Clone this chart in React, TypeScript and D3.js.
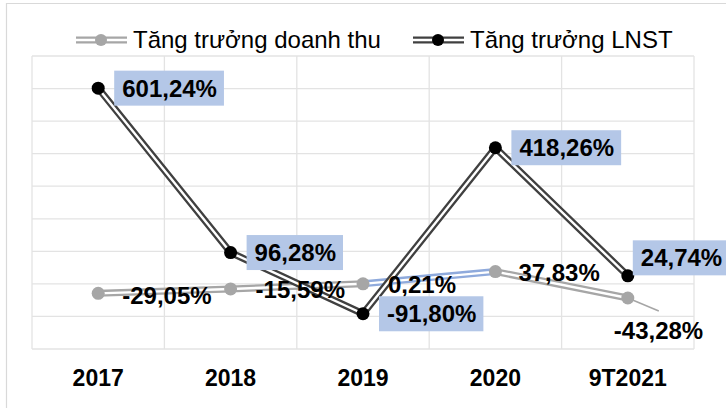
import React, { useEffect, useRef } from 'react';
import * as d3 from 'd3';

// data
const categories = ['2017', '2018', '2019', '2020', '9T2021'];
const revenueGrowth = [-29.05, -15.59, 0.21, 37.83, -43.28];
const profitGrowth = [601.24, 96.28, -91.8, 418.26, 24.74];
const legendNames = ['Tăng trưởng doanh thu', 'Tăng trưởng LNST'];
const yTicks = [-200, -100, 0, 100, 200, 300, 400, 500, 600, 700];

// label placement (dx, dy from point)
const profitLabelShift = [[0, 0], [0, 0], [0, 0], [0, 0], [-11, -18]];
const revenueLabelShift = [[24, 2], [25, 1], [25, 1], [23, 1], [-14, 33]];

const fmt = (v: number) => v.toFixed(2).replace('.', ',') + '%';

const W = 726;
const H = 408;
const FONT = '"Liberation Sans", Arial, sans-serif';

const App = () => {
  const svgRef = useRef<SVGSVGElement>(null);

  useEffect(() => {
    const svg = d3.select(svgRef.current);
    svg.selectAll('*').remove();

    const left = 32, right = 694, top = 56, bottom = 349;

    const x = d3.scaleBand().domain(categories).range([left, right]);
    const y = d3.scaleLinear().domain([-200, 700]).range([bottom, top]);
    const cx = (c: string) => (x(c) as number) + x.bandwidth() / 2;

    // outer border
    svg.append('path')
      .attr('d', `M6.5,${H} V3.5 H${W}`)
      .attr('fill', 'none')
      .attr('stroke', '#d9d9d9')
      .attr('stroke-width', 1.2);

    // gridlines
    svg.append('g').selectAll('line')
      .data(yTicks)
      .enter().append('line')
      .attr('x1', left).attr('x2', right)
      .attr('y1', d => y(d)).attr('y2', d => y(d))
      .attr('stroke', '#e3e3e3').attr('stroke-width', 1.3);

    const vlines = [...categories.map(c => x(c) as number), right];
    svg.append('g').selectAll('line')
      .data(vlines)
      .enter().append('line')
      .attr('x1', d => d).attr('x2', d => d)
      .attr('y1', top).attr('y2', bottom)
      .attr('stroke', '#e3e3e3').attr('stroke-width', 1.3);

    // x axis labels
    svg.append('g').selectAll('text')
      .data(categories)
      .enter().append('text')
      .attr('x', d => cx(d))
      .attr('y', 386)
      .attr('text-anchor', 'middle')
      .style('font', `bold 23px ${FONT}`)
      .attr('fill', '#000')
      .text(d => d);

    const doubleLine = (g: any, pts: [number, number][], color: string) => {
      const line = d3.line();
      g.append('path').attr('d', line(pts)).attr('fill', 'none')
        .attr('stroke', color).attr('stroke-width', 7).attr('stroke-linejoin', 'round');
      g.append('path').attr('d', line(pts)).attr('fill', 'none')
        .attr('stroke', '#fff').attr('stroke-width', 2.4).attr('stroke-linejoin', 'round');
    };

    const revPts: [number, number][] = categories.map((c, i) => [cx(c), y(revenueGrowth[i])]);
    const proPts: [number, number][] = categories.map((c, i) => [cx(c), y(profitGrowth[i])]);

    // revenue series (segment 2019-2020 highlighted in blue)
    const gRev = svg.append('g');
    for (let i = 0; i < revPts.length - 1; i++) {
      doubleLine(gRev, [revPts[i], revPts[i + 1]], i === 2 ? '#8faadc' : '#a6a6a6');
    }
    // leader line of last label
    const lastRev = revPts[revPts.length - 1];
    gRev.append('line')
      .attr('x1', lastRev[0]).attr('y1', lastRev[1])
      .attr('x2', lastRev[0] + 31).attr('y2', lastRev[1] + 13)
      .attr('stroke', '#a6a6a6').attr('stroke-width', 1.5);
    gRev.selectAll('circle')
      .data(revPts)
      .enter().append('circle')
      .attr('cx', d => d[0]).attr('cy', d => d[1]).attr('r', 6.5)
      .attr('fill', '#a6a6a6');

    // profit series
    const gPro = svg.append('g');
    doubleLine(gPro, proPts, '#404040');
    gPro.selectAll('circle')
      .data(proPts)
      .enter().append('circle')
      .attr('cx', d => d[0]).attr('cy', d => d[1]).attr('r', 6.5)
      .attr('fill', '#000');

    // revenue labels
    svg.append('g').selectAll('text')
      .data(revPts)
      .enter().append('text')
      .attr('x', (d, i) => d[0] + revenueLabelShift[i][0])
      .attr('y', (d, i) => d[1] + revenueLabelShift[i][1])
      .attr('dy', '0.35em')
      .style('font', `bold 24px ${FONT}`)
      .attr('fill', '#000')
      .text((d, i) => fmt(revenueGrowth[i]));

    // profit labels with boxes
    const gLab = svg.append('g');
    proPts.forEach((p, i) => {
      const bx = p[0] + 16 + profitLabelShift[i][0];
      const by = p[1] + profitLabelShift[i][1];
      const t = gLab.append('text')
        .attr('x', bx + 8)
        .attr('y', by)
        .attr('dy', '0.35em')
        .style('font', `bold 24px ${FONT}`)
        .attr('fill', '#000')
        .text(fmt(profitGrowth[i]));
      const w = (t.node() as SVGTextElement).getComputedTextLength();
      gLab.insert('rect', 'text')
        .attr('x', bx).attr('y', by - 17.5)
        .attr('width', w + 15).attr('height', 35)
        .attr('fill', '#b4c7e7');
    });

    // legend
    const legend = [
      { name: legendNames[0], color: '#a6a6a6', dot: '#a6a6a6', x0: 76 },
      { name: legendNames[1], color: '#404040', dot: '#000', x0: 413 },
    ];
    const ly = 40;
    legend.forEach(l => {
      const g = svg.append('g');
      doubleLine(g, [[l.x0, ly], [l.x0 + 51, ly]], l.color);
      g.append('circle').attr('cx', l.x0 + 25).attr('cy', ly).attr('r', 6).attr('fill', l.dot);
      g.append('text')
        .attr('x', l.x0 + 57)
        .attr('y', ly)
        .attr('dy', '0.35em')
        .style('font', `24px ${FONT}`)
        .attr('fill', '#000')
        .text(l.name);
    });
  }, []);

  return (
    <svg
      ref={svgRef}
      width={W}
      height={H}
      style={{ position: 'absolute', left: 0, top: 0, background: '#fff' }}
    />
  );
};

export default App;
